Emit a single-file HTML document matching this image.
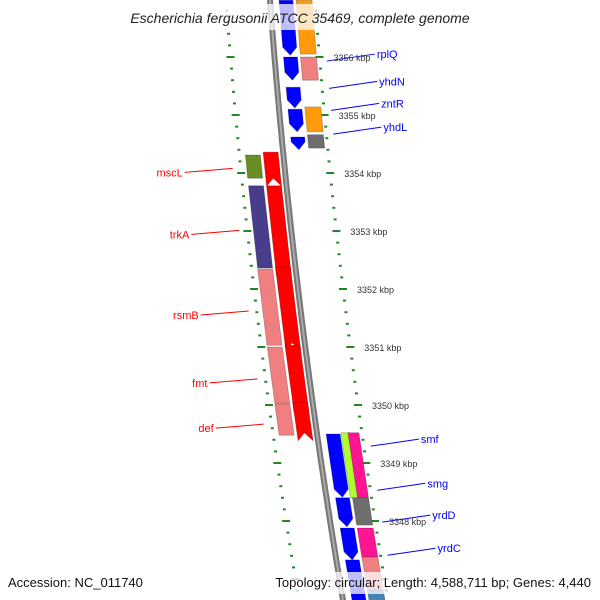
<!DOCTYPE html>
<html><head><meta charset="utf-8"><style>
html,body{margin:0;padding:0;background:#fff;}
svg{display:block;font-family:"Liberation Sans","DejaVu Sans",sans-serif;}
</style></head><body>
<svg id="map" width="600" height="600" viewBox="0 0 600 600" xmlns="http://www.w3.org/2000/svg">
<g id="rings"></g>
<path id="backbone" fill="none" stroke="#777" stroke-width="6"/>
<path id="backbone2" fill="none" stroke="#aaa" stroke-width="2"/>
<g id="genes"></g>
<g id="labels"></g>
<g id="kbp"></g>
<rect x="110" y="4" width="380" height="26" fill="#fff" fill-opacity="0.75"/>
<text x="300" y="23" text-anchor="middle" font-size="14" font-style="italic" fill="#222">Escherichia fergusonii ATCC 35469, complete genome</text>
<rect x="256" y="572" width="338" height="22" fill="#fff" fill-opacity="0.75"/>
<text x="8" y="587" font-size="13" fill="#111">Accession: NC_011740</text>
<text x="591" y="587" text-anchor="end" font-size="13" fill="#111">Topology: circular; Length: 4,588,711 bp; Genes: 4,440</text>
</svg>
<script>
// gene data (kbp)
const geneStart=[3356.98,3356.00,3355.48,3355.10,3354.62, 3356.98,3356.00,3355.14,3354.66,
  3354.36,3353.78,3352.38,3351.03,3350.05, 3354.31,3353.78,3352.34,3351.00,3350.02,
  3349.50,3348.40,3347.88,3347.33, 3349.52,3349.52,3348.40,3347.88,3347.38,3346.81];
const geneEnd=[3356.03,3355.60,3355.12,3354.71,3354.40, 3356.05,3355.60,3354.71,3354.43,
  3353.91,3352.36,3351.07,3350.03,3349.52, 3353.91,3352.36,3351.03,3350.03,3349.48,
  3348.41,3347.90,3347.33,3346.50, 3348.40,3348.40,3347.93,3347.38,3346.81,3346.50];
const geneLane=['R1','R1','R1','R1','R1','R2','R2','R2','R2',
  'L1','L1','L1','L1','L1','L2','L2','L2','L2','L2',
  'R1','R1','R1','R1','R2a','R2b','R2','R2','R2','R2'];
const geneColor=['#0000ff','#0000ff','#0000ff','#0000ff','#0000ff','#ff9a0a','#f08080','#ff9a0a','#6e6e6e',
  '#ff0000','#ff0000','#ff0000','#ff0000','#ff0000','#6b8e23','#483d8b','#f08080','#f08080','#f08080',
  '#0000ff','#0000ff','#0000ff','#0000ff','#adff2f','#ff1493','#6e6e6e','#ff1493','#f08080','#4682b4'];
const geneArrow=[1,1,1,1,1,0,0,0,0, -1,-1,-1,-1,-1,0,0,0,0,0, 1,1,1,1,0,0,0,0,0,0];
const kbpTicks=[3356,3355,3354,3353,3352,3351,3350,3349,3348];
const leftNames=['mscL','trkA','rsmB','fmt','def'];
const leftNameKbp=[3354.08,3353.01,3351.62,3350.45,3349.67];
const rightNames=['rplQ','yhdN','zntR','yhdL','smf','smg','yrdD','yrdC'];
const rightNameKbp=[3355.93,3355.46,3355.08,3354.67,3349.29,3348.53,3347.98,3347.41];

const NS='http://www.w3.org/2000/svg';
function yOf(k){return 57+(3356-k)*58;}
function bx(y){return 270+0.0742*y+0.000079*y*y;}
const lanes={R1:[9,23],R2:[26,42],R2a:[24,33],R2b:[31,42],L1:[-20,-5],L2:[-38,-23]};
function mk(tag,attrs,parent){const e=document.createElementNS(NS,tag);for(const k in attrs)e.setAttribute(k,attrs[k]);parent.appendChild(e);return e;}

// backbone
let d='';for(let y=-5;y<=605;y+=5)d+=(y===-5?'M':'L')+bx(y).toFixed(1)+' '+y+' ';
document.getElementById('backbone').setAttribute('d',d);
document.getElementById('backbone2').setAttribute('d',d);

// rings
const rings=document.getElementById('rings');
for(let k=3357;k>=3346.3;k-=0.2){
  const y=yOf(k);if(y<-5||y>605)continue;
  const major=Math.abs(k-Math.round(k))<0.01;
  [-44,45].forEach(off=>{
    const x=bx(y)+off;const w=major?8:3;
    const r=mk('rect',{x:(x-w/2).toFixed(1),y:(y-1).toFixed(1),width:w,height:2,fill:'#1f8a1f'},rings);
    
    
  });
}
// kbp labels
const kg=document.getElementById('kbp');
kbpTicks.forEach(k=>{
  const y=yOf(k);
  const t=mk('text',{x:(bx(y)+59).toFixed(1),y:(y+4).toFixed(1),'font-size':'9',fill:'#333'},kg);
  t.textContent=k+' kbp';
  
  
});

// genes
const gg=document.getElementById('genes');
for(let i=0;i<geneStart.length;i++){
  let y1=yOf(geneStart[i]),y2=yOf(geneEnd[i]);
  const [o1,o2]=lanes[geneLane[i]];const h=8;
  let pts=[];
  if(geneArrow[i]===1){
    pts=[[bx(y1)+o1,y1],[bx(y1)+o2,y1],[bx(y2-h)+o2,y2-h],[bx(y2)+(o1+o2)/2,y2],[bx(y2-h)+o1,y2-h]];
  }else if(geneArrow[i]===-1){
    pts=[[bx(y1)+o1,y1],[bx(y1)+o2,y1],[bx(y2+h)+o2,y2+h],[bx(y2)+(o1+o2)/2,y2],[bx(y2+h)+o1,y2+h]];
  }else{
    pts=[[bx(y1)+o1,y1],[bx(y1)+o2,y1],[bx(y2)+o2,y2],[bx(y2)+o1,y2]];
  }
  const p=mk('polygon',{points:pts.map(q=>q[0].toFixed(1)+','+q[1].toFixed(1)).join(' '),fill:geneColor[i],stroke:'rgba(0,0,0,0.25)','stroke-width':'0.8'},gg);
  
  
}

// labels
const lg=document.getElementById('labels');
leftNames.forEach((n,i)=>{
  const y=yOf(leftNameKbp[i]);const xe=bx(y)-52;
  const l=mk('line',{x1:xe-48,y1:y+4,x2:xe,y2:y,stroke:'#ff0000','stroke-width':'1'},lg);
  
  
  const t=mk('text',{x:xe-50,y:y+8,'text-anchor':'end','font-size':'11',fill:'#ff0000'},lg);
  t.textContent=n;
  
  
});
rightNames.forEach((n,i)=>{
  const y=yOf(rightNameKbp[i]);const xs=bx(y)+52;
  const l=mk('line',{x1:xs,y1:y,x2:xs+48,y2:y-7,stroke:'#0000ff','stroke-width':'1'},lg);
  
  
  const t=mk('text',{x:xs+50,y:y-3,'font-size':'11',fill:'#0000ff'},lg);
  t.textContent=n;
  
  
});
</script>
</body></html>
